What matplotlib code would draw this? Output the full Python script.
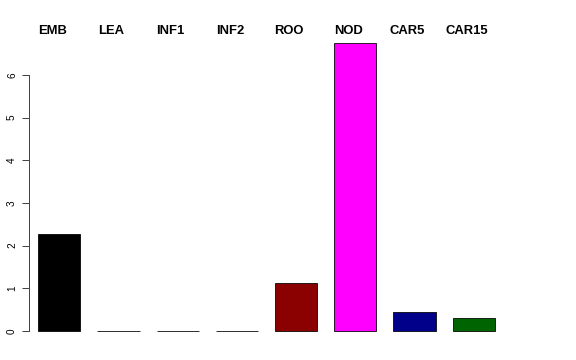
import matplotlib
matplotlib.use("Agg")
import matplotlib.pyplot as plt

# Data
tissues = ["EMB", "LEA", "INF1", "INF2", "ROO", "NOD", "CAR5", "CAR15"]
values = [2.27, 0.01, 0.01, 0.01, 1.12, 6.75, 0.44, 0.30]
colors = ["black", "#5a2020", "#2f4f2f", "#202050", "#8B0000", "#FF00FF", "#00008B", "#006400"]
yticks = [0, 1, 2, 3, 4, 5, 6]

plt.rcParams['font.family'] = ['Liberation Sans', 'DejaVu Sans']

fig = plt.figure(figsize=(8, 5), dpi=72)
ax = fig.add_axes([29 / 576, 17.5 / 360, 531 / 576, 311 / 360])

x = list(range(len(tissues)))
ax.bar(x, values, width=0.71, color=colors, edgecolor="black", linewidth=0.8)

ax.set_xlim(-0.512, 8.458)
ax.set_ylim(-0.27, 7.02)

for s in ["top", "right", "bottom"]:
    ax.spines[s].set_visible(False)
ax.spines["left"].set_bounds(0, 6)
ax.spines["left"].set_color("#444444")
ax.spines["left"].set_linewidth(1)

ax.set_xticks([])
ax.set_yticks(yticks)
ax.set_yticklabels([str(t) for t in yticks], rotation=90, va="center", fontsize=10)
ax.tick_params(axis="y", length=7, width=1, color="#444444", pad=5)

# tissue names along the top
for xi, name in zip(x, tissues):
    ax.text(xi - 0.12, 7.02, name, ha="center", va="center", fontsize=13,
            fontweight="bold", clip_on=False)

fig.savefig("out.png", dpi=72)
